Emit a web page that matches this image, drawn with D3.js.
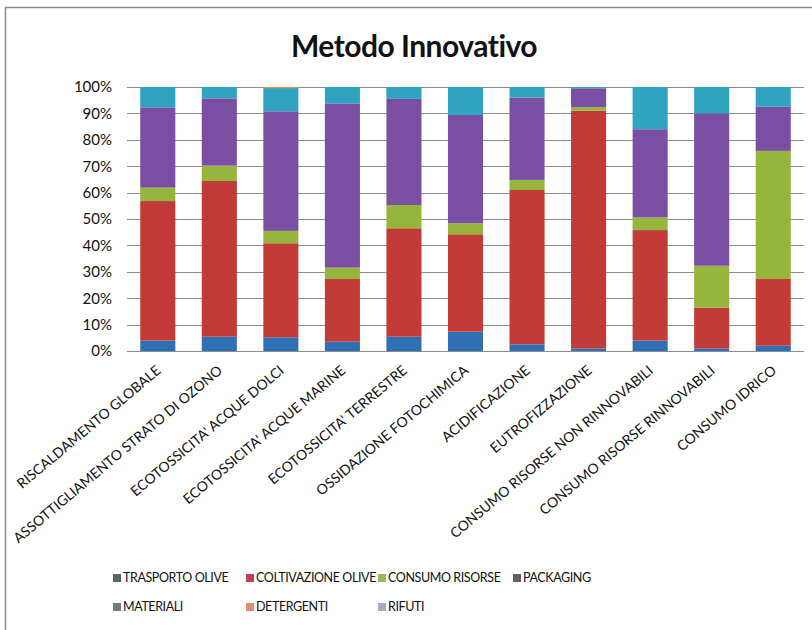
<!DOCTYPE html>
<html>
<head>
<meta charset="utf-8">
<script src="https://cdn.jsdelivr.net/npm/d3@7"></script>
<style>
  html, body { margin: 0; padding: 0; background: #fff; }
  svg { display: block; }
  text { font-family: Lato, "Open Sans", sans-serif; fill: #111; }
</style>
</head>
<body>
<svg id="chart" width="812" height="630"></svg>
<script>
// Impact categories along the x axis
const categories = [
  "RISCALDAMENTO GLOBALE",
  "ASSOTTIGLIAMENTO STRATO DI OZONO",
  "ECOTOSSICITA' ACQUE DOLCI",
  "ECOTOSSICITA' ACQUE MARINE",
  "ECOTOSSICITA' TERRESTRE",
  "OSSIDAZIONE FOTOCHIMICA",
  "ACIDIFICAZIONE",
  "EUTROFIZZAZIONE",
  "CONSUMO RISORSE NON RINNOVABILI",
  "CONSUMO RISORSE RINNOVABILI",
  "CONSUMO IDRICO"
];

// Contribution (%) of each phase to every impact category
const seriesNames = ["TRASPORTO OLIVE", "COLTIVAZIONE OLIVE", "CONSUMO RISORSE", "PACKAGING", "MATERIALI", "DETERGENTI", "RIFUTI"];
const trasportoOlive    = [3.9, 5.4, 5.2, 3.5, 5.4, 7.3, 2.5, 1.0, 3.9, 1.0, 2.0];
const coltivazioneOlive = [52.9, 59.0, 35.6, 23.8, 41.1, 36.9, 58.5, 90.0, 41.9, 15.4, 25.3];
const consumoRisorse    = [5.1, 5.8, 4.7, 4.3, 8.8, 4.2, 3.8, 1.4, 4.8, 15.9, 48.5];
const packaging         = [30.4, 25.5, 45.3, 62.2, 40.2, 41.0, 31.2, 7.1, 33.4, 57.7, 16.7];
const materiali         = [7.7, 4.3, 8.8, 6.2, 4.5, 10.6, 4.0, 0.5, 16.0, 10.0, 7.5];
const detergenti        = [0, 0, 0.4, 0, 0, 0, 0, 0, 0, 0, 0];
const rifiuti           = [0, 0, 0, 0, 0, 0, 0, 0, 0, 0, 0];
const yTicks = [0, 0.1, 0.2, 0.3, 0.4, 0.5, 0.6, 0.7, 0.8, 0.9, 1.0];

const seriesValues = [trasportoOlive, coltivazioneOlive, consumoRisorse, packaging, materiali, detergenti, rifiuti];
const barColors    = ["#2f6fb6", "#c23b36", "#95b53c", "#7a4fa3", "#2fa3bf", "#f08a3c", "#a7a6c8"];
const legendColors = ["#5b6262", "#c3404c", "#9ab659", "#5f5f63", "#6b807c", "#e28e6c", "#a9a8c2"];

const rows = categories.map((c, i) => {
  const r = { category: c };
  seriesNames.forEach((s, j) => { r[s] = seriesValues[j][i]; });
  return r;
});

const svg = d3.select("#chart");

// chart frame
svg.append("path")
  .attr("d", "M5.5,640 V7.5 H830")
  .attr("fill", "none")
  .attr("stroke", "#8a8a8a")
  .attr("stroke-width", 1.5);

const plot = { left: 127, right: 804, top: 87, bottom: 351 };

const x = d3.scaleBand()
  .domain(categories)
  .range([plot.left, plot.right])
  .paddingInner(0.43)
  .paddingOuter(0.215);

const y = d3.scaleLinear()
  .domain([0, 1])
  .range([plot.bottom, plot.top]);

// gridlines
svg.append("g")
  .selectAll("line")
  .data(yTicks)
  .join("line")
  .attr("x1", plot.left)
  .attr("x2", plot.right)
  .attr("y1", d => Math.round(y(d)) + 0.5)
  .attr("y2", d => Math.round(y(d)) + 0.5)
  .attr("stroke", "#8c8c8c")
  .attr("stroke-width", 1);

// y axis labels
const yAxis = d3.axisLeft(y)
  .tickValues(yTicks)
  .tickFormat(d3.format(".0%"))
  .tickSize(0)
  .tickPadding(15);

const gy = svg.append("g")
  .attr("transform", `translate(${plot.left},0)`)
  .call(yAxis);
gy.select(".domain").remove();
gy.selectAll("text")
  .style("font-family", "Lato, sans-serif")
  .style("font-size", "15px")
  .attr("fill", "#111");

// stacked 100% bars
const stack = d3.stack()
  .keys(seriesNames)
  .offset(d3.stackOffsetExpand);
const layers = stack(rows);

svg.append("g")
  .selectAll("g")
  .data(layers)
  .join("g")
  .attr("fill", (d, i) => barColors[i])
  .selectAll("rect")
  .data(d => d)
  .join("rect")
  .attr("x", d => x(d.data.category))
  .attr("width", x.bandwidth())
  .attr("y", d => y(d[1]))
  .attr("height", d => Math.max(0, y(d[0]) - y(d[1])));

// x axis category labels
const xAxis = d3.axisBottom(x).tickSize(0).tickPadding(0);
const gx = svg.append("g")
  .attr("transform", `translate(0,${plot.bottom})`)
  .call(xAxis);
gx.select(".domain").remove();
gx.selectAll("text")
  .style("font-family", "Lato, sans-serif")
  .style("font-size", "14px")
  .attr("fill", "#111")
  .attr("text-anchor", "end")
  .attr("dy", null)
  .attr("y", 0)
  .attr("transform", "translate(4,21) rotate(-40)");

// title
svg.append("text")
  .attr("x", 414)
  .attr("y", 57)
  .attr("text-anchor", "middle")
  .style("font-family", "Lato, sans-serif")
  .style("font-weight", "bold")
  .style("font-size", "30px")
  .style("letter-spacing", "-0.5px")
  .text("Metodo Innovativo");

// legend
const legendCols = [113, 246, 378, 513];
const legendRows = [578, 607];
const legend = svg.append("g")
  .selectAll("g")
  .data(seriesNames)
  .join("g")
  .attr("transform", (d, i) => `translate(${legendCols[i % 4]},${legendRows[Math.floor(i / 4)]})`);

legend.append("rect")
  .attr("x", 0)
  .attr("y", -4)
  .attr("width", 8)
  .attr("height", 8)
  .attr("fill", (d, i) => legendColors[i]);

legend.append("text")
  .attr("x", 10)
  .attr("y", 0)
  .attr("dy", "0.35em")
  .style("font-family", "Lato, sans-serif")
  .style("font-size", "12.5px")
  .style("letter-spacing", "-0.4px")
  .text(d => d);
</script>
</body>
</html>
